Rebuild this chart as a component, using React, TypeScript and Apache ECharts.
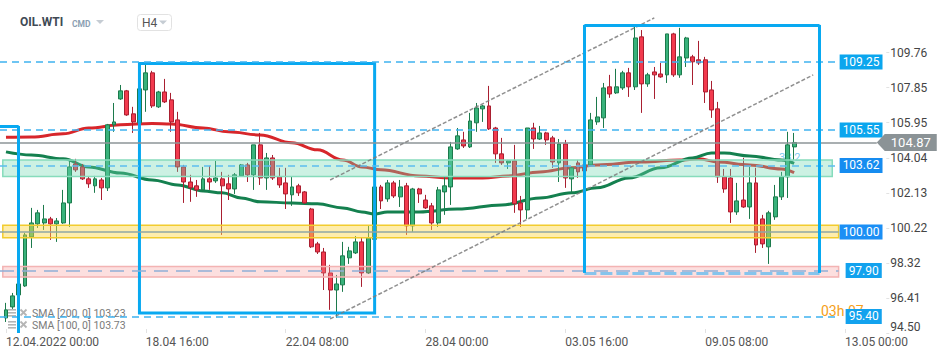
import React, { useEffect, useRef } from 'react';
import * as echarts from 'echarts';

// ---------- data (H4 candles, index 0 = 12.04.2022 00:00) ----------
const opens = [
  95.32, 95.92, 96.57, 97.06, 99.73, 100.44, 100.49, 100.71, 100.44, 100.49,
  101.58, 103.70, 103.54, 102.89, 102.51, 102.83, 102.40, 105.83, 107.24, 107.68,
  106.43, 105.94, 107.73, 108.66, 106.81, 107.62, 107.19, 106.10, 103.54, 102.72,
  102.51, 102.29, 102.89, 102.78, 102.89, 102.62, 102.34, 103.05, 103.65, 103.11,
  104.74, 102.94, 104.03, 103.00, 102.67, 102.02, 102.51, 102.18, 101.25, 99.35,
  98.91, 97.77, 96.84, 97.12, 98.59, 98.86, 99.46, 97.77, 99.60, 102.45,
  101.80, 102.67, 101.91, 102.51, 100.33, 102.34, 101.74, 101.42, 100.49, 102.18,
  102.45, 104.52, 105.01, 104.63, 105.94, 106.70, 106.86, 105.66, 104.25, 103.76,
  103.87, 101.58, 101.20, 105.66, 105.06, 105.39, 105.12, 103.76, 104.79, 102.89,
  103.76, 103.65, 103.65, 105.99, 106.21, 107.90, 107.57, 107.84, 108.66, 107.90,
  110.62, 108.06, 108.71, 108.60, 108.55, 110.78, 108.55, 109.47, 109.53, 109.37,
  109.37, 107.73, 106.70, 103.00, 102.94, 101.09, 101.74, 101.36, 102.67, 100.71,
  99.19, 100.82, 101.91, 103.00, 104.63,
];
const closes = [
  95.76, 96.52, 97.17, 99.84, 100.49, 101.04, 100.71, 100.44, 100.60, 101.58,
  103.54, 103.38, 102.89, 102.62, 102.89, 102.40, 105.83, 105.99, 107.68, 106.37,
  105.99, 107.79, 108.66, 106.86, 107.62, 107.08, 105.99, 103.54, 102.72, 102.40,
  102.29, 102.89, 102.72, 102.94, 102.51, 102.34, 103.11, 103.65, 103.11, 104.74,
  102.94, 104.03, 102.94, 102.56, 102.07, 102.45, 102.13, 101.58, 99.19, 98.91,
  97.77, 96.84, 97.17, 98.70, 98.97, 99.46, 97.77, 99.68, 102.45, 101.69,
  102.67, 101.96, 102.45, 100.33, 102.34, 102.07, 101.31, 100.49, 102.29, 102.51,
  104.63, 105.23, 104.68, 106.04, 106.75, 106.86, 105.61, 104.25, 103.76, 103.87,
  101.53, 101.20, 105.66, 105.06, 105.39, 105.01, 103.81, 104.79, 102.94, 103.49,
  103.27, 103.32, 106.10, 106.26, 107.84, 107.51, 107.90, 108.66, 107.90, 110.56,
  108.06, 108.55, 108.55, 108.44, 110.78, 108.55, 109.53, 110.56, 109.26, 109.20,
  107.62, 106.64, 103.00, 102.34, 101.09, 101.69, 101.36, 102.67, 99.29, 99.35,
  101.04, 101.91, 103.00, 104.74, 104.87,
];
const lows = [
  95.10, 95.81, 96.52, 97.01, 99.13, 100.22, 100.11, 99.57, 99.46, 100.44,
  100.27, 103.27, 102.83, 102.40, 102.13, 101.74, 102.23, 105.45, 107.19, 106.32,
  105.39, 105.83, 106.54, 106.75, 106.75, 107.02, 105.45, 103.27, 101.58, 101.64,
  101.91, 102.18, 102.29, 102.67, 99.84, 101.74, 102.07, 103.00, 102.72, 102.29,
  102.56, 102.29, 102.83, 102.40, 101.25, 101.42, 101.96, 101.53, 99.13, 98.80,
  96.84, 95.76, 95.32, 96.74, 98.26, 98.80, 97.01, 97.72, 99.40, 101.25,
  101.64, 101.85, 101.36, 99.84, 100.00, 101.58, 101.25, 100.11, 100.27, 100.93,
  101.47, 104.47, 104.57, 104.57, 105.45, 105.99, 105.55, 103.76, 103.65, 103.43,
  101.04, 100.27, 100.71, 104.52, 105.01, 104.74, 103.49, 102.72, 102.40, 102.07,
  102.94, 103.11, 103.60, 105.83, 105.66, 107.30, 107.51, 107.73, 107.35, 107.73,
  106.48, 107.90, 107.24, 108.39, 108.11, 108.44, 108.39, 108.98, 108.00, 109.09,
  107.02, 106.21, 102.67, 102.13, 100.49, 100.93, 101.31, 100.71, 98.86, 99.13,
  98.26, 100.66, 101.74, 101.85, 103.92,
];
const highs = [
  96.14, 96.68, 97.39, 99.95, 101.31, 101.20, 101.47, 100.82, 100.76, 102.29,
  103.92, 103.98, 103.70, 103.00, 103.05, 102.94, 105.88, 107.02, 108.00, 107.73,
  106.81, 107.95, 109.15, 108.77, 107.68, 108.33, 107.57, 106.54, 103.65, 103.11,
  102.83, 103.54, 103.60, 103.87, 103.27, 103.11, 103.21, 103.70, 103.76, 104.74,
  105.39, 104.30, 104.19, 103.49, 103.49, 103.00, 102.62, 102.23, 101.31, 99.46,
  99.13, 98.21, 97.66, 99.46, 99.19, 99.78, 99.68, 100.33, 102.60, 102.56,
  102.83, 102.78, 102.83, 102.67, 102.40, 102.40, 102.02, 101.58, 102.45, 103.00,
  104.90, 105.66, 105.45, 106.48, 107.02, 106.92, 107.95, 105.72, 105.12, 103.92,
  104.74, 101.96, 105.66, 105.94, 105.77, 105.45, 105.23, 105.06, 105.01, 103.54,
  103.92, 103.81, 106.48, 107.35, 108.11, 108.55, 108.88, 108.77, 108.93, 111.16,
  110.99, 108.66, 108.98, 109.20, 110.78, 110.84, 111.11, 110.62, 109.64, 110.40,
  109.53, 108.22, 107.08, 103.43, 103.43, 102.67, 104.03, 103.54, 103.49, 100.93,
  101.15, 102.56, 103.27, 105.45, 105.39,
];

// SMA readings (candle index, value)
const sma200Idx = [0, 4, 9, 13, 18, 23, 26, 31, 35, 40, 45, 49, 53, 56, 59, 65, 70, 75, 79, 84, 89, 93, 100, 106, 109, 112, 117, 122, 124];
const sma200Val = [105.15, 105.17, 105.34, 105.66, 105.83, 105.91, 105.88, 105.66, 105.45, 105.28, 104.85, 104.47, 103.92, 103.54, 103.38, 103.05, 102.94, 102.94, 103.05, 103.27, 103.49, 103.65, 103.81, 103.92, 103.98, 103.81, 103.65, 103.43, 103.23];
const sma100Idx = [0, 4, 9, 13, 18, 23, 27, 31, 34, 37, 40, 45, 49, 53, 56, 58, 60, 65, 71, 78, 84, 89, 93, 98, 103, 108, 111, 113, 117, 122, 124];
const sma100Val = [104.36, 104.19, 103.98, 103.54, 103.21, 102.83, 102.56, 102.23, 102.13, 101.85, 101.64, 101.58, 101.53, 101.31, 101.09, 100.98, 101.09, 101.09, 101.25, 101.47, 101.85, 102.13, 102.40, 102.94, 103.49, 104.03, 104.30, 104.30, 104.14, 103.92, 103.73];

// axes
const X_COUNT = 139;
const X_TICK_EVERY = 22;
const xTickLabels = ['12.04.2022 00:00', '18.04 16:00', '22.04 08:00', '28.04 00:00', '03.05 16:00', '09.05 08:00', '13.05 00:00'];
const Y_MIN = 94.5;
const Y_STEP = 1.9075;
const yTickLabels = ['94.50', '96.41', '98.32', '100.22', '102.13', '104.04', '105.95', '107.85', '109.76'];

// drawings
const levelValues = [109.25, 105.55, 103.62, 100.0, 97.9, 95.4];
const currentPrice = 104.87;
const greenBand = [103.02, 103.92];
const yellowBand = [99.68, 100.36];
const pinkBand = [97.55, 98.12];
const leftBox = [21, 109.17, 58, 95.59];
const rightBox = [91, 111.27, 128, 97.77];
const cornerBox = [2, 105.77];
const lowerTrend = [51, 95.27, 127, 108.55];
const upperTrend = [51, 102.83, 102, 111.65];

const smaLegend = ['SMA [200, 0] 103.23', 'SMA [100, 0] 103.73'];

function buildOption() {
  const categories = Array.from({ length: X_COUNT }, (_, i) => String(i));
  const candles = opens.map((o, i) => [o, closes[i], lows[i], highs[i]]);
  const LEVEL_END = 131;

  const dashBlue = { color: '#3fb3f0', width: 1.5, type: [7, 5] };
  const levelLine = [
    dashBlue,
    dashBlue,
    { color: '#5cbdf0', width: 1.5, type: [7, 5] },
    { color: '#8fa6a6', width: 1.5, type: 'solid' },
    { color: '#8eb0d8', width: 1.5, type: [14, 8] },
    dashBlue,
  ];
  const levelBg = ['#0ba6ee', '#0ba6ee', '#168cf0', '#1b8ff5', '#12a2ee', '#12a2ee'];
  const tag = (text: string, bg: string, distance: number) => ({
    show: true,
    position: 'end',
    formatter: text,
    color: '#fff',
    backgroundColor: bg,
    padding: [2, 3, 1, 3],
    fontSize: 12,
    lineHeight: 12,
    fontFamily: 'Roboto',
    distance,
  });
  const noLabel = { show: false };
  const boxLine = { color: '#08a9f1', width: 3, type: 'solid' };
  const boxBottom = { color: '#86c4ec', width: 3, type: [12, 4] };
  const trendLine = { color: '#7d7d7d', width: 1.5, type: [4, 2], opacity: 0.85 };
  // left end of a horizontal drawing: the left edge of the plot
  const fromLeft = (v: number, lineStyle: any, label: any) => ({ coord: [0, v], x: 0, lineStyle, label });
  const seg = (a: number[], b: number[], lineStyle: any) => [
    { coord: a, lineStyle, label: noLabel },
    { coord: b },
  ];

  const markLines: any[] = levelValues.map((v, k) => [
    fromLeft(v, levelLine[k], tag(v.toFixed(2), levelBg[k], v >= 100 ? 1 : 7)),
    { coord: [LEVEL_END, v] },
  ]);
  markLines.push([
    fromLeft(currentPrice, { color: '#8d9497', width: 1.5, type: 'solid' }, noLabel),
    { coord: [137, currentPrice] },
  ]);
  markLines.push(seg([lowerTrend[0], lowerTrend[1]], [lowerTrend[2], lowerTrend[3]], trendLine));
  markLines.push(seg([upperTrend[0], upperTrend[1]], [upperTrend[2], upperTrend[3]], trendLine));
  markLines.push([fromLeft(cornerBox[1], boxLine, noLabel), { coord: [cornerBox[0], cornerBox[1]] }]);
  markLines.push(seg([cornerBox[0], cornerBox[1]], [cornerBox[0], Y_MIN], boxLine));
  // right box: bottom edge drawn lighter
  markLines.push(seg([rightBox[0], rightBox[3]], [rightBox[2], rightBox[3]], boxBottom));
  markLines.push(seg([rightBox[0], rightBox[3]], [rightBox[0], rightBox[1]], boxLine));
  markLines.push(seg([rightBox[0], rightBox[1]], [rightBox[2], rightBox[1]], boxLine));
  markLines.push(seg([rightBox[2], rightBox[1]], [rightBox[2], rightBox[3]], boxLine));

  const band = (b: number[], end: number, fill: string, border: string) => [
    { coord: [-Infinity, b[1]], itemStyle: { color: fill, borderColor: border, borderWidth: 1.5 } },
    { coord: [end, b[0]] },
  ];
  const box = (b: number[]) => [
    { coord: [b[0], b[1]], itemStyle: { color: 'rgba(0,0,0,0)', borderColor: '#08a9f1', borderWidth: 3 } },
    { coord: [b[2], b[3]] },
  ];

  const graphicEls: any[] = [
    { type: 'text', x: 20, y: 22, style: { text: 'OIL.WTI', fill: '#3f4a55', font: 'bold 12px Roboto', verticalAlign: 'middle' } },
    { type: 'text', x: 72, y: 23.5, style: { text: 'CMD', fill: '#8ba0b2', font: 'bold 8.5px Roboto', verticalAlign: 'middle' } },
    { type: 'polygon', shape: { points: [[96, 20], [104, 20], [100, 24]] }, style: { fill: '#c5ccd3' } },
    { type: 'rect', shape: { x: 137.5, y: 14.5, width: 34, height: 16, r: 3 }, style: { fill: '#fff', stroke: '#e2e2e2', lineWidth: 1 } },
    { type: 'text', x: 142, y: 23, style: { text: 'H4', fill: '#555', font: '12px Roboto', verticalAlign: 'middle' } },
    { type: 'polygon', shape: { points: [[159, 20.5], [167, 20.5], [163, 24.5]] }, style: { fill: '#c5ccd3' } },
    { type: 'text', x: 779, y: 157, style: { text: '38.2', fill: '#7ccaf2', font: '11px Roboto', verticalAlign: 'middle' } },
    { type: 'text', x: 821, y: 311, style: { text: '03h 07', fill: '#f5a01a', font: '14px Roboto', verticalAlign: 'middle' } },
  ];
  smaLegend.forEach((t, k) => {
    const y = 313 + k * 12;
    graphicEls.push(
      { type: 'rect', shape: { x: 8, y: y - 4, width: 8, height: 1.6 }, style: { fill: '#b5b5b5' } },
      { type: 'rect', shape: { x: 8, y: y - 1, width: 8, height: 1.6 }, style: { fill: '#b5b5b5' } },
      { type: 'rect', shape: { x: 8, y: y + 2, width: 8, height: 1.6 }, style: { fill: '#b5b5b5' } },
      { type: 'line', shape: { x1: 20.5, y1: y - 3.5, x2: 26.5, y2: y + 2.5 }, style: { stroke: '#b5b5b5', lineWidth: 1.8 } },
      { type: 'line', shape: { x1: 26.5, y1: y - 3.5, x2: 20.5, y2: y + 2.5 }, style: { stroke: '#b5b5b5', lineWidth: 1.8 } },
      { type: 'text', x: 32, y, style: { text: t, fill: '#7a7a7a', font: '10.5px Roboto', verticalAlign: 'middle' } },
    );
  });

  return {
    animation: false,
    backgroundColor: '#ffffff',
    textStyle: { fontFamily: 'Roboto, sans-serif' },
    grid: { left: 2.8, right: 62.7, top: 17.6, bottom: 25, containLabel: false, outerBoundsMode: 'none' },
    xAxis: {
      type: 'category',
      data: categories,
      boundaryGap: true,
      axisLine: { show: false },
      axisTick: {
        show: true,
        inside: true,
        length: 4,
        alignWithLabel: true,
        interval: (i: number) => i % X_TICK_EVERY === 0,
        lineStyle: { color: '#e2e2e2' },
      },
      axisLabel: {
        interval: (i: number) => i % X_TICK_EVERY === 0,
        formatter: (_v: string, i: number) => (i % X_TICK_EVERY === 0 ? xTickLabels[i / X_TICK_EVERY] ?? '' : ''),
        align: 'left',
        color: '#555',
        fontSize: 12,
        fontFamily: 'Roboto',
        margin: 3,
      },
      splitLine: { show: false },
    },
    yAxis: {
      type: 'value',
      position: 'right',
      min: Y_MIN,
      max: Y_MIN + Y_STEP * 9,
      interval: Y_STEP,
      axisLine: { show: false },
      axisTick: { show: true, length: 3, lineStyle: { color: '#e2e2e2' } },
      splitLine: { show: false },
      axisLabel: {
        showMaxLabel: false,
        color: '#444',
        fontSize: 12,
        fontFamily: 'Roboto',
        margin: 4,
        formatter: (v: number) => {
          const i = Math.round((v - Y_MIN) / Y_STEP);
          const t = yTickLabels[i] ?? '';
          return i === 0 ? '{lo|' + t + '}' : t;
        },
        rich: { lo: { padding: [0, 0, 12, 0], color: '#444', fontSize: 12, fontFamily: 'Roboto' } },
      },
    },
    series: [
      {
        type: 'candlestick',
        data: candles,
        barWidth: 4.4,
        z: 2,
        itemStyle: {
          color: '#38b27b',
          color0: '#f23a4e',
          borderColor: '#1c7a4c',
          borderColor0: '#a91f30',
          borderWidth: 1,
        },
      },
      {
        type: 'line',
        data: sma200Idx.map((x, k) => [x, sma200Val[k]]),
        smooth: 0.4,
        smoothMonotone: 'x',
        symbol: 'none',
        showSymbol: false,
        z: 2,
        lineStyle: { color: '#d7262b', width: 3 },
      },
      {
        type: 'line',
        data: sma100Idx.map((x, k) => [x, sma100Val[k]]),
        smooth: 0.4,
        smoothMonotone: 'x',
        symbol: 'none',
        showSymbol: false,
        z: 2,
        lineStyle: { color: '#14804f', width: 3 },
      },
      {
        type: 'line',
        data: [],
        clip: false,
        z: 3,
        silent: true,
        markArea: {
          z: 3,
          silent: true,
          label: { show: false },
          data: [
            band(greenBand, 130, 'rgba(110,215,175,0.35)', '#86dcbc'),
            band(yellowBand, 131, 'rgba(253,214,70,0.45)', '#f2cc2e'),
            band(pinkBand, 131, 'rgba(245,150,150,0.3)', '#f3b3b3'),
            box(leftBox),
          ],
        },
        markLine: {
          z: 5,
          silent: true,
          symbol: ['none', 'none'],
          label: { show: false },
          data: markLines,
        },
        markPoint: {
          z: 6,
          silent: true,
          data: [
            {
              coord: [137, currentPrice],
              symbol: 'path://M0,8.5 L8,0 L60,0 L60,17 L8,17 Z',
              symbolSize: [60, 17],
              symbolOffset: [30, 0],
              itemStyle: { color: '#8b9396' },
              label: {
                show: true,
                position: 'inside',
                formatter: currentPrice.toFixed(2),
                color: '#fff',
                fontSize: 13,
                fontFamily: 'Roboto',
                offset: [4, 0],
              },
            },
          ],
        },
      },
    ],
    graphic: { elements: graphicEls },
  };
}

export default function App() {
  const ref = useRef<HTMLDivElement>(null);
  useEffect(() => {
    document.body.style.margin = '0';
    const chart = echarts.init(ref.current!, null, { renderer: 'svg' });
    chart.setOption(buildOption() as any);
    return () => chart.dispose();
  }, []);
  return (
    <div
      ref={ref}
      style={{ position: 'absolute', left: 0, top: 0, width: 949, height: 358, background: '#fff' }}
    />
  );
}
